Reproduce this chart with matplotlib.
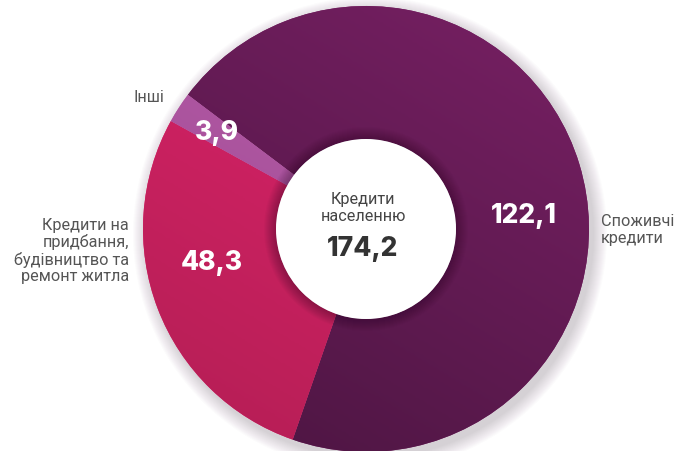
import numpy as np
import matplotlib.pyplot as plt
from matplotlib.patches import Circle
from matplotlib.colors import LinearSegmentedColormap

# Loans to households, bn
categories = ["Споживчі\nкредити", "Кредити на\nпридбання,\nбудівництво та\nремонт житла", "Інші"]
values = [122.1, 48.3, 3.9]
value_labels = ["122,1", "48,3", "3,9"]
total_label = "174,2"
center_title = "Кредити\nнаселенню"

# gradient (light, dark) per slice
grad_colors = [("#782064", "#4a1540"), ("#e4246d", "#b21e54"), ("#bb62ad", "#9c4690")]

W, H = 677, 452
fig = plt.figure(figsize=(W / 100, H / 100), dpi=100)
ax = fig.add_axes([0, 0, 1, 1])

cx, cy = 366, H - 230
r_out, r_in = 223, 90

# soft shadow behind the ring
for i in range(14):
    ax.add_patch(Circle((cx + 4, cy - 5), r_out + 14 - i, color="#4a3050",
                        alpha=0.014, lw=0, zorder=0))

wedges, _ = ax.pie(values, center=(cx, cy), radius=r_out, startangle=143,
                   counterclock=False, colors=[c[0] for c in grad_colors],
                   wedgeprops=dict(width=r_out - r_in, linewidth=0), frame=True)
ax.set_xlim(0, W)
ax.set_ylim(0, H)
ax.set_aspect("equal")
ax.axis("off")

# diagonal gradient inside each wedge (lighter towards top-right)
yy, xx = np.mgrid[0:1:200j, 0:1:200j]
g = (0.6 * xx + yy) / 1.6
for w, (c1, c2) in zip(wedges, grad_colors):
    cmap = LinearSegmentedColormap.from_list("g", [c2, c1])
    im = ax.imshow(g, cmap=cmap, extent=(cx - r_out, cx + r_out, cy - r_out, cy + r_out),
                   origin="lower", zorder=1.5, interpolation="bilinear")
    im.set_clip_path(w)

# inner shadow around the hole
for i in range(12):
    ax.add_patch(Circle((cx, cy), r_in + 12 - i, color="#2a0a25", alpha=0.03, lw=0, zorder=2))
ax.add_patch(Circle((cx, cy), r_in, color="white", lw=0, zorder=3))

label_font = ["Roboto", "DejaVu Sans"]
num_font = ["Inter", "DejaVu Sans"]

def py(y):
    return H - y

ax.text(601, py(230), categories[0], ha="left", va="center", fontsize=11.7,
        color="#555555", family=label_font, linespacing=1.12, zorder=5)
ax.text(129, py(251), categories[1], ha="right", va="center", fontsize=11.7,
        color="#555555", family=label_font, linespacing=1.12, zorder=5)
ax.text(164, py(97), categories[2], ha="right", va="center", fontsize=11.7,
        color="#555555", family=label_font, zorder=5)

num_pos = [(524, 216), (212, 263), (217, 133)]
for (x, y), lab in zip(num_pos, value_labels):
    ax.text(x, py(y), lab, ha="center", va="center", fontsize=19, fontweight="heavy",
            color="white", family=num_font, zorder=5)

ax.text(363, py(208), center_title, ha="center", va="center", fontsize=11.7,
        color="#444444", family=label_font, linespacing=1.12, zorder=5)
ax.text(363, py(249), total_label, ha="center", va="center", fontsize=19,
        fontweight="heavy", color="#333333", family=num_font, zorder=5)

fig.savefig("out.png", dpi=100)
